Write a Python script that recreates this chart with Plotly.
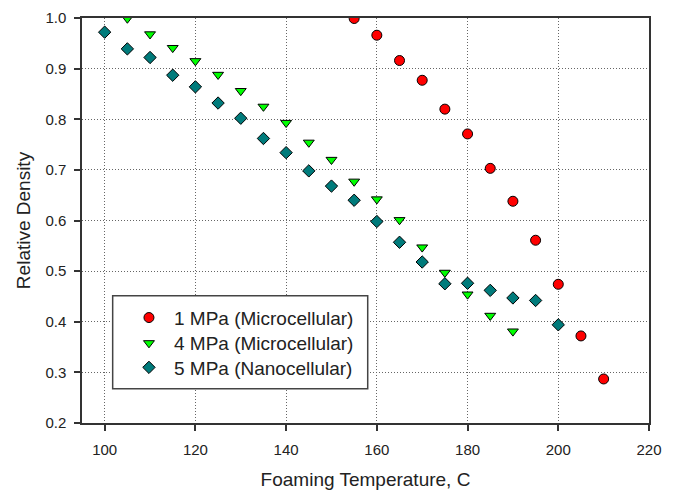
import plotly.graph_objects as go

# Data
x_1mpa = [155, 160, 165, 170, 175, 180, 185, 190, 195, 200, 205, 210]
y_1mpa = [0.999, 0.966, 0.916, 0.877, 0.820, 0.771, 0.703, 0.638, 0.561, 0.474, 0.372, 0.287]

x_4mpa = [105, 110, 115, 120, 125, 130, 135, 140, 145, 150, 155, 160, 165, 170, 175, 180, 185, 190]
y_4mpa = [0.999, 0.968, 0.941, 0.915, 0.888, 0.856, 0.825, 0.793, 0.754, 0.720, 0.677, 0.642, 0.601, 0.547, 0.497, 0.454, 0.412, 0.381]

x_5mpa = [100, 105, 110, 115, 120, 125, 130, 135, 140, 145, 150, 155, 160, 165, 170, 175, 180, 185, 190, 195, 200]
y_5mpa = [0.972, 0.939, 0.922, 0.887, 0.864, 0.832, 0.802, 0.762, 0.734, 0.698, 0.668, 0.640, 0.598, 0.557, 0.518, 0.475, 0.476, 0.462, 0.447, 0.442, 0.394]

names = ["1 MPa (Microcellular)", "4 MPa (Microcellular)", "5 MPa (Nanocellular)"]

x_ticks = [100, 120, 140, 160, 180, 200, 220]
y_ticks = [0.2, 0.3, 0.4, 0.5, 0.6, 0.7, 0.8, 0.9, 1.0]

FONT = "Liberation Sans, Arial, sans-serif"

fig = go.Figure()
fig.add_trace(go.Scatter(x=x_1mpa, y=y_1mpa, mode="markers", name=names[0], legend="legend",
                         marker=dict(symbol="circle", size=10, color="#FF0000",
                                     line=dict(color="black", width=1))))
fig.add_trace(go.Scatter(x=x_4mpa, y=y_4mpa, mode="markers", name=names[1], legend="legend2",
                         marker=dict(symbol="triangle-down", size=9.5, color="#00FF00",
                                     line=dict(color="black", width=1))))
fig.add_trace(go.Scatter(x=x_5mpa, y=y_5mpa, mode="markers", name=names[2], legend="legend3",
                         marker=dict(symbol="diamond", size=9.5, color="#007B7B",
                                     line=dict(color="black", width=1))))

axis_common = dict(
    showline=True, linecolor="#333333", linewidth=1.5, mirror=True,
    ticks="outside", ticklen=6, tickcolor="#333333", tickwidth=1.5,
    showgrid=True, gridcolor="#666666", griddash="1px,2px", gridwidth=1,
    zeroline=False, automargin=False,
    tickfont=dict(family=FONT, size=15, color="#222222"),
)

fig.update_xaxes(range=[95, 220], tickvals=x_ticks, ticklabelstandoff=6,
                 title=dict(text="Foaming Temperature, C", font=dict(family=FONT, size=19, color="#222222"), standoff=16),
                 **axis_common)
fig.update_yaxes(range=[0.2, 1.0], tickvals=y_ticks, tickformat=".1f", ticklabelstandoff=5,
                 title=dict(text="Relative Density", font=dict(family=FONT, size=19, color="#222222"), standoff=10),
                 **axis_common)

leg_common = dict(xanchor="left", yanchor="middle", bgcolor="rgba(0,0,0,0)", borderwidth=0,
                  font=dict(family=FONT, size=19, color="#222222"), itemwidth=40)

fig.update_layout(
    width=678, height=490,
    margin=dict(l=82, r=29, t=18, b=67, autoexpand=False),
    paper_bgcolor="white", plot_bgcolor="white",
    showlegend=True,
    legend=dict(x=0.074, y=0.260, **leg_common),
    legend2=dict(x=0.074, y=0.197, **leg_common),
    legend3=dict(x=0.074, y=0.137, **leg_common),
    shapes=[dict(type="rect", xref="paper", yref="paper",
                 x0=0.0541, x1=0.5039, y0=0.0847, y1=0.3143,
                 line=dict(color="#444444", width=1.5), fillcolor="white", layer="above")],
)

fig.write_html("out.html")
